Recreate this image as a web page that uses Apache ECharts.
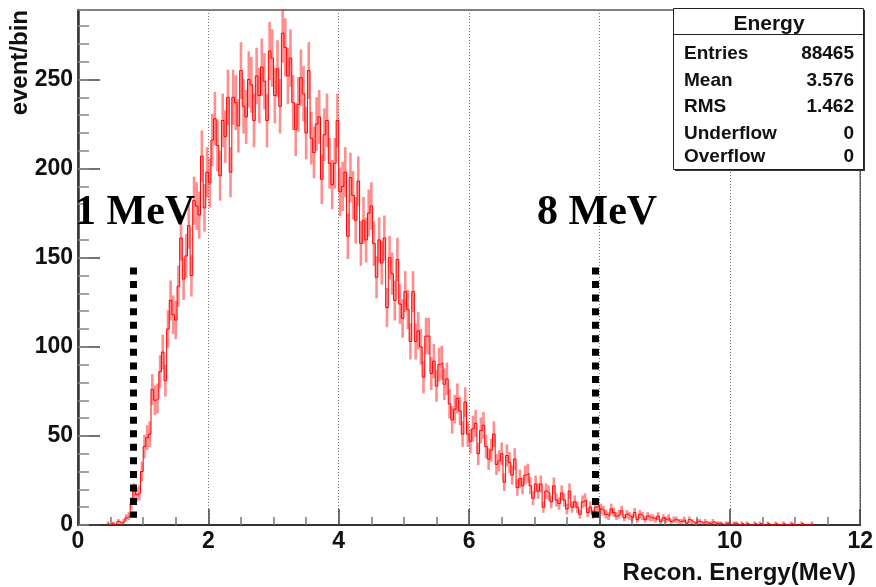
<!DOCTYPE html>
<html><head><meta charset="utf-8">
<script src="https://cdn.jsdelivr.net/npm/echarts@6/dist/echarts.min.js"></script>
<style>html,body{margin:0;padding:0;background:#fff}#c{width:876px;height:587px}</style>
</head><body><div id="c"></div>
<script>
// ---- data ----
const binStart = 0;
const binWidth = 0.04;
const counts = [
0,0,0,0,0,0,0,0,0,0,
0,1,0,1,0,2,1,2,4,5,
12,19,17,18,30,44,49,51,76,70,
71,86,97,81,110,126,118,115,134,161,
138,151,168,140,182,179,174,207,178,198,
192,216,228,213,196,227,218,240,198,240,
237,224,255,235,229,250,247,227,252,241,
257,249,227,266,262,241,256,235,276,268,
252,262,237,222,236,251,242,220,255,217,
209,225,229,194,219,227,203,191,203,227,
187,190,198,162,195,185,171,193,158,171,
160,175,179,158,139,160,147,161,122,150,
141,126,149,124,116,131,121,103,131,103,
109,100,83,106,106,85,92,78,90,91,
79,82,68,59,65,71,64,51,69,51,
47,54,57,40,53,56,44,37,42,51,
34,36,40,24,39,35,28,37,21,26,
22,28,29,22,15,23,19,23,10,19,
18,13,22,14,12,18,14,9,19,10,
13,10,6,13,14,7,10,6,10,11,
9,8,6,5,9,7,5,6,8,4,
6,5,4,7,3,6,5,3,5,4,
4,3,5,2,4,3,4,2,3,3,
2,2,3,1,3,2,1,2,2,1,
2,1,1,2,1,1,1,0,1,1,
0,1,1,0,1,0,1,0,0,1,
0,1,0,0,1,0,0,1,0,0,
1,0,0,1,0,0,0,1,0,0,
0,1,0,0,0,0,0,0,0,0,
0,0,0,0,0,0,0,0,0,0
];
const xMin = 0, xMax = 12, xStep = 2;
const yMin = 0, yMax = 289, yStep = 50, yMinorStep = 10;
const histTitle = 'Energy';
const statNames = ['Entries', 'Mean', 'RMS', 'Underflow', 'Overflow'];
const statValues = ['88465', '3.576', '1.462', '0', '0'];
const cutPositions = [0.842, 7.94];
const cutLabels = ['1 MeV', '8 MeV'];
const cutTop = 144.5, cutBottom = 4;
const xTitle = 'Recon. Energy(MeV)';
const yTitle = 'event/bin';

// ---- build ----
const centers = counts.map((_, i) => binStart + (i + 0.5) * binWidth);
let first = counts.findIndex(v => v > 0);
let last = counts.length - 1; while (last > 0 && counts[last] === 0) last--;
const lineData = [];
for (let i = Math.max(0, first); i <= Math.min(counts.length - 1, last); i++) lineData.push([centers[i], counts[i]]);
const errData = counts.map((v, i) => [centers[i], v]).filter(d => d[1] > 0);

const FONT = '"Liberation Sans", Arial, sans-serif';
const chart = echarts.init(document.getElementById('c'), null, {renderer: 'canvas'});

const graphics = [
  {type: 'text', x: 20, y: 10, rotation: Math.PI / 2, z: 10,
   style: {text: yTitle, font: 'bold 24px ' + FONT, fill: '#111', align: 'right', verticalAlign: 'middle'}},
  {type: 'text', x: 856, y: 573, z: 10,
   style: {text: xTitle, font: 'bold 24px ' + FONT, fill: '#111', align: 'right', verticalAlign: 'middle'}},
  {type: 'text', x: 75, y: 213, z: 10,
   style: {text: cutLabels[0], font: 'bold 42px "Liberation Serif", "Times New Roman", serif', fill: '#000', align: 'left', verticalAlign: 'middle'}},
  {type: 'text', x: 537, y: 213, z: 10,
   style: {text: cutLabels[1], font: 'bold 42px "Liberation Serif", "Times New Roman", serif', fill: '#000', align: 'left', verticalAlign: 'middle'}},
  // stats box
  {type: 'rect', shape: {x: 675, y: 10, width: 190, height: 161}, z: 20, style: {fill: '#333'}},
  {type: 'rect', shape: {x: 673.5, y: 8.5, width: 190, height: 161}, z: 21, style: {fill: '#fff', stroke: '#222', lineWidth: 1}},
  {type: 'line', shape: {x1: 673.5, y1: 34.5, x2: 863.5, y2: 34.5}, z: 22, style: {stroke: '#222', lineWidth: 1}},
  {type: 'text', x: 769, y: 24, z: 22,
   style: {text: histTitle, font: 'bold 21px ' + FONT, fill: '#111', align: 'center', verticalAlign: 'middle'}}
];
const rowY = [54, 81, 107, 134, 157];
statNames.forEach((n, i) => {
  graphics.push({type: 'text', x: 684, y: rowY[i], z: 22,
    style: {text: n, font: 'bold 19px ' + FONT, fill: '#111', align: 'left', verticalAlign: 'middle'}});
  graphics.push({type: 'text', x: 854, y: rowY[i], z: 22,
    style: {text: statValues[i], font: 'bold 19px ' + FONT, fill: '#111', align: 'right', verticalAlign: 'middle'}});
});

const option = {
  animation: false,
  backgroundColor: '#fff',
  grid: {left: 78, right: 14, top: 10, bottom: 62, show: true, borderColor: '#000', borderWidth: 1, containLabel: false},
  xAxis: {
    type: 'value', min: xMin, max: xMax, interval: xStep,
    axisLine: {show: true, onZero: false, lineStyle: {color: '#333', width: 2}},
    axisTick: {show: true, inside: true, length: 16, lineStyle: {color: '#444', width: 1.5}},
    minorTick: {show: true, splitNumber: 4, length: 8, lineStyle: {color: '#777', width: 1.5}},
    axisLabel: {fontSize: 23, fontWeight: 'bold', fontFamily: FONT, color: '#111', margin: 5},
    splitLine: {show: true, lineStyle: {color: '#777', width: 1, type: [1, 2]}},
    minorSplitLine: {show: false}
  },
  yAxis: [
    {
      type: 'value', min: yMin, max: yMax, interval: yStep, position: 'left',
      axisLine: {show: true, onZero: false, lineStyle: {color: '#333', width: 2.5}},
      axisTick: {show: true, inside: true, length: 22, lineStyle: {color: '#444', width: 1.5}},
      axisLabel: {fontSize: 23, fontWeight: 'bold', fontFamily: FONT, color: '#111', margin: 5, showMaxLabel: false},
      splitLine: {show: false}
    },
    {
      type: 'value', min: yMin, max: yMax, interval: yMinorStep, position: 'left', offset: 0,
      axisLine: {show: false},
      axisTick: {show: true, inside: true, length: 11, lineStyle: {color: '#888', width: 1.5}},
      axisLabel: {show: false},
      splitLine: {show: false}
    }
  ],
  graphic: graphics,
  series: [
    {
      type: 'custom', name: 'err', xAxisIndex: 0, yAxisIndex: 0, clip: true, silent: true,
      data: errData,
      renderItem: function (params, api) {
        const c = api.value(0), n = api.value(1), e = Math.sqrt(n);
        const p0 = api.coord([c - binWidth / 2, n + e]);
        const p1 = api.coord([c + binWidth / 2, n - e]);
        return {type: 'rect', shape: {x: p0[0], y: p0[1], width: p1[0] - p0[0], height: p1[1] - p0[1]},
                style: {fill: 'rgba(255,30,30,0.5)'}};
      },
      z: 2
    },
    {
      type: 'line', name: 'hist', xAxisIndex: 0, yAxisIndex: 0, step: 'middle', showSymbol: false, silent: true,
      data: lineData,
      lineStyle: {color: '#ff0000', width: 1},
      z: 3,
      markLine: {
        silent: true, symbol: ['none', 'none'], label: {show: false},
        lineStyle: {color: '#000', width: 7, type: [7, 6.56], opacity: 1},
        data: cutPositions.map(x => [{coord: [x, cutTop]}, {coord: [x, cutBottom]}])
      }
    }
  ]
};
chart.setOption(option);
</script>
</body></html>
